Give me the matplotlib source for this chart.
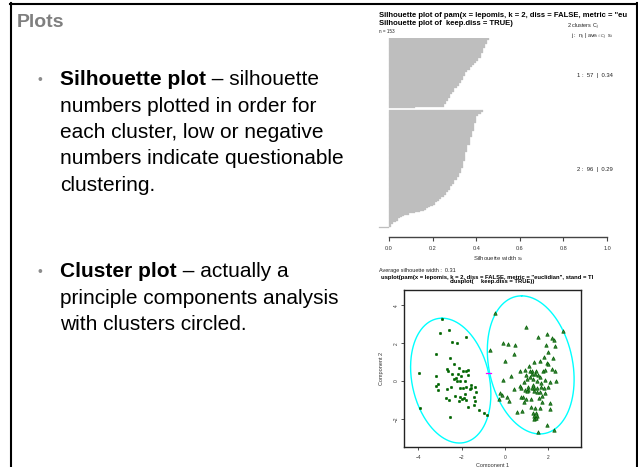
import numpy as np
import matplotlib.pyplot as plt
from matplotlib.lines import Line2D

plt.rcParams['font.family'] = ['Liberation Sans', 'DejaVu Sans']
plt.rcParams['mathtext.fontset'] = 'custom'
plt.rcParams['mathtext.rm'] = 'Liberation Sans'
plt.rcParams['mathtext.it'] = 'Liberation Sans:italic'

# silhouette widths per cluster (sorted, as plotted)
sil_c1 = [0.46, 0.46, 0.45, 0.45, 0.45, 0.44, 0.44, 0.44, 0.43, 0.43,
          0.43, 0.43, 0.42, 0.42, 0.42, 0.42, 0.41, 0.41, 0.41, 0.40,
          0.39, 0.39, 0.38, 0.38, 0.37, 0.37, 0.36, 0.36, 0.35, 0.35,
          0.35, 0.34, 0.34, 0.34, 0.33, 0.33, 0.33, 0.32, 0.32, 0.31,
          0.31, 0.30, 0.30, 0.30, 0.29, 0.29, 0.28, 0.28, 0.28, 0.27,
          0.27, 0.26, 0.26, 0.26, 0.25, 0.25, 0.12]
sil_c2 = [0.43, 0.42, 0.42, 0.41, 0.41, 0.40, 0.40, 0.40, 0.40, 0.40,
          0.39, 0.39, 0.39, 0.39, 0.39, 0.39, 0.39, 0.38, 0.38, 0.38,
          0.38, 0.38, 0.37, 0.37, 0.37, 0.37, 0.37, 0.37, 0.36, 0.36,
          0.36, 0.36, 0.36, 0.36, 0.35, 0.35, 0.35, 0.35, 0.35, 0.35,
          0.35, 0.34, 0.34, 0.34, 0.34, 0.34, 0.34, 0.33, 0.33, 0.33,
          0.33, 0.32, 0.32, 0.32, 0.31, 0.31, 0.31, 0.30, 0.30, 0.30,
          0.29, 0.29, 0.28, 0.28, 0.28, 0.27, 0.27, 0.26, 0.26, 0.25,
          0.25, 0.24, 0.23, 0.23, 0.22, 0.21, 0.21, 0.20, 0.19, 0.18,
          0.17, 0.16, 0.14, 0.12, 0.09, 0.07, 0.06, 0.05, 0.04, 0.04,
          0.03, 0.02, 0.02, 0.01, 0.01, -0.045]
cluster_ids = [1, 2]
cluster_n = [57, 96]
cluster_avg = [0.34, 0.29]
avg_width = 0.31
sil_ticks = [0.0, 0.2, 0.4, 0.6, 0.8, 1.0]

# principal component scores
pc1_c1 = [-2.92, -3.00, -2.58, -2.46, -2.20, -1.80, -3.20, -3.96, -2.53, -2.33,
          -2.69, -2.61, -2.10, -1.92, -1.81, -1.71, -3.16, -2.44, -2.15, -1.72,
          -2.33, -3.09, -3.16, -3.07, -2.69, -2.50, -2.07, -1.84, -1.57, -2.06,
          -1.94, -1.78, -1.57, -1.38, -1.34, -2.29, -2.57, -2.09, -2.00, -1.87,
          -1.80, -2.12, -1.43, -1.38, -1.69, -1.44, -1.18, -0.97, -0.84, -2.53,
          -3.92, -2.24, -2.01, -1.61, -1.86, -2.20, -2.72]
pc2_c1 = [3.28, 2.52, 2.68, 2.08, 2.03, 2.31, 1.45, 0.42, 1.23, 0.90,
          0.62, 0.51, 0.71, 0.55, 0.55, 0.56, 0.26, 0.37, 0.37, 0.30,
          0.12, -0.14, -0.28, -0.48, -0.44, -0.30, 0.02, -0.02, -0.21, -0.35,
          -0.37, -0.34, -0.35, -0.34, -0.56, -0.78, -1.00, -0.86, -0.97, -0.90,
          -1.00, -1.08, -0.83, -1.04, -1.39, -1.27, -1.53, -1.71, -1.78, -1.89,
          -1.43, 0.18, 0.25, -0.42, -0.69, -0.02, -0.88]
pc1_c2 = [-0.48, 0.95, 2.69, 1.94, 1.54, 2.17, 2.27, -0.11, 0.14, 0.46,
          1.89, 2.30, -0.69, 0.41, 2.00, 2.20, 1.80, 0.02, 1.32, 1.63,
          1.92, 1.11, 2.00, 2.18, 2.32, 0.68, 0.92, 1.15, 1.24, 1.43,
          1.51, 1.77, 1.86, 0.26, 1.26, 1.37, 1.61, 1.00, -0.09, 0.86,
          1.84, 2.37, 2.06, 0.69, 1.29, 0.74, 0.41, 0.91, 1.04, 1.23,
          1.34, 1.46, 1.67, 1.78, 1.08, 1.34, 1.46, 1.63, 1.86, -0.23,
          -0.15, 0.11, 0.20, -0.26, 0.72, 0.81, 0.88, 1.18, 1.58, 1.72,
          1.18, 0.54, 0.78, 1.38, 1.61, 2.06, 2.07, 1.29, 1.43, 1.34,
          1.46, 1.38, 1.32, 1.44, 1.95, 1.54, 2.27, 1.03, 0.95, 1.69,
          1.31, 1.47, 1.14, 0.98, 1.66, 1.98]
pc2_c2 = [3.58, 2.88, 2.65, 2.50, 2.33, 2.26, 2.17, 2.03, 1.94, 1.92,
          1.92, 1.85, 1.64, 1.43, 1.53, 1.23, 1.29, 1.04, 1.02, 1.08,
          0.97, 0.79, 0.90, 0.65, 0.55, 0.55, 0.58, 0.51, 0.51, 0.53,
          0.30, 0.51, 0.58, 0.25, 0.35, 0.35, 0.23, 0.12, 0.05, -0.04,
          0.05, 0.02, -0.04, -0.25, -0.19, -0.39, -0.44, -0.48, -0.34, -0.35,
          -0.39, -0.35, -0.30, -0.35, -0.48, -0.53, -0.58, -0.60, -0.65, -0.62,
          -0.74, -0.86, -1.06, -0.95, -0.83, -0.86, -1.09, -0.95, -0.92, -1.09,
          -1.36, -1.66, -1.57, -1.45, -1.41, -1.15, -1.48, -1.68, -1.71, -1.85,
          -1.83, -1.98, -2.01, -1.98, -2.33, -2.72, -2.59, -0.53, -0.97, -0.79,
          0.09, -0.02, 0.23, 0.34, -0.09, -0.34]

# spanning ellipses: centre and shape terms
ell_cx = [-2.50, 1.185]
ell_cy = [0.02, 0.85]
ell_xc = [-0.40, -0.42]   # x term on cos
ell_xs = [1.806, 1.955]   # x term on sin
ell_yc = [3.30, 3.65]     # y term on cos
sep_x = [-0.87, -0.66]
sep_y = [0.44, 0.44]

W, H = 638, 467


def fx(x):
    return x / W


def fy(y):
    return 1 - y / H


fig = plt.figure(figsize=(W / 100, H / 100), dpi=100)
fig.patch.set_facecolor('white')

# slide frame
for xs, ys in [([10.5, 10.5], [3, 467]), ([10, 637], [3.5, 3.5]), ([636.5, 636.5], [3, 467])]:
    fig.add_artist(Line2D([fx(v) for v in xs], [fy(v) for v in ys], color='black', lw=1.5))

fig.text(fx(17), fy(27), 'Plots', fontsize=14, weight='bold', color='#7f7f7f')

renderer = fig.canvas.get_renderer()


def bullet(y, bold, rest, more):
    fig.text(fx(37), fy(y - 1), '\u2022', fontsize=10, color='#8c8c8c')
    t = fig.text(fx(60), fy(y), bold, fontsize=15, weight='bold')
    bb = t.get_window_extent(renderer)
    fig.text(bb.x1 / W, fy(y), rest, fontsize=15)
    for i, line in enumerate(more):
        fig.text(fx(60), fy(y + 26.5 * (i + 1)), line, fontsize=15)


bullet(85, 'Silhouette plot', ' \u2013 silhouette',
       ['numbers plotted in order for', 'each cluster, low or negative',
        'numbers indicate questionable', 'clustering.'])
bullet(277, 'Cluster plot', ' \u2013 actually a',
       ['principle components analysis', 'with clusters circled.'])

# ---- silhouette plot ----
ax1 = fig.add_axes([fx(370), fy(237), (620 - 370) / W, (237 - 38) / H])
gap = 2
pos1 = np.arange(len(sil_c1))
pos2 = np.arange(len(sil_c2)) + len(sil_c1) + gap
ax1.barh(pos1, sil_c1, height=1.0, align='edge', color='#bebebe', edgecolor='#bebebe', lw=0.2)
ax1.barh(pos2, sil_c2, height=1.0, align='edge', color='#bebebe', edgecolor='#bebebe', lw=0.2)
ax1.set_xlim(-19 / 218, 1 + 13 / 218)
ax1.set_ylim((237 - 38) / 1.226, 0)
for s in ['top', 'right', 'left']:
    ax1.spines[s].set_visible(False)
ax1.spines['bottom'].set_bounds(0, 1)
ax1.spines['bottom'].set_color('#444444')
ax1.spines['bottom'].set_linewidth(1.0)
ax1.set_yticks([])
ax1.set_xticks(sil_ticks)
ax1.set_xticklabels([f'{v:.1f}' for v in sil_ticks])
ax1.tick_params(axis='x', labelsize=4, length=3, width=0.8, pad=3.5, color='#444444', labelcolor='#333333')
ax1.set_xlabel('Silhouette width s$_i$', fontsize=4.3, color='#333333')
ax1.xaxis.set_label_coords(0.512, -0.085)
ax1.patch.set_alpha(0)

fig.text(fx(379), fy(17), 'Silhouette plot of pam(x = lepomis, k = 2, diss = FALSE, metric = "eu',
         fontsize=5.5, weight='bold')
fig.text(fx(379), fy(25), 'Silhouette plot of', fontsize=5.5, weight='bold')
fig.text(fx(446), fy(25), 'keep.diss = TRUE)', fontsize=5.5, weight='bold')
fig.text(fx(379), fy(33), f'n = {len(sil_c1) + len(sil_c2)}', fontsize=3.3, color='#222222')
fig.text(fx(567), fy(28), f'{len(cluster_n)} clusters C$_j$', fontsize=4.0, color='#222222')
fig.text(fx(571), fy(38.5), r'j :  n$_j$ | ave$_{i\in Cj}$  s$_i$', fontsize=4.0, color='#222222')
for k, n, a, yb in zip(cluster_ids, cluster_n, cluster_avg, [76.5, 171.5]):
    fig.text(fx(577), fy(yb), f'{k} :  {n}  |  {a:.2f}', fontsize=4.2, color='#222222')
fig.text(fx(379), fy(272), f'Average silhouette width :  {avg_width:.2f}', fontsize=4, color='#222222')

# ---- cluster plot ----
fig.text(fx(381), fy(278.5),
         'usplot(pam(x = lepomis, k = 2, diss = FALSE, metric = "euclidian", stand = TI',
         fontsize=4.2, weight='bold')
fig.text(fx(450), fy(283), 'clusplot(', fontsize=4.2, weight='bold')
fig.text(fx(481), fy(283), 'keep.diss = TRUE))', fontsize=4.2, weight='bold')

ax2 = fig.add_axes([fx(404), fy(447), 177 / W, 157 / H])
t = np.linspace(0, 2 * np.pi, 300)
for cx, cy, a, b, c in zip(ell_cx, ell_cy, ell_xc, ell_xs, ell_yc):
    ax2.plot(cx + a * np.cos(t) + b * np.sin(t), cy + c * np.cos(t), color='#00ffff', lw=1.0)
ax2.plot(sep_x, sep_y, color='#ff00ff', lw=0.9)
ax2.scatter(pc1_c1, pc2_c1, s=3.5, marker='o', color='#006400', lw=0.3, zorder=3)
ax2.scatter(pc1_c2, pc2_c2, s=6, marker='^', facecolor='#3d7d3d', edgecolor='#006400', lw=0.5, zorder=3)
ax2.set_xlim(-4.654, 3.502)
ax2.set_ylim(-3.49, 4.81)
ax2.set_xticks([-4, -2, 0, 2])
ax2.set_yticks([-2, 0, 2, 4])
for s in ax2.spines.values():
    s.set_linewidth(1.0)
    s.set_color('#222222')
ax2.tick_params(labelsize=3.5, length=2.5, width=0.6, color='#333333', labelcolor='#333333')
ax2.tick_params(axis='x', pad=3)
ax2.tick_params(axis='y', pad=1.5)
for lbl in ax2.get_yticklabels():
    lbl.set_rotation(90)
    lbl.set_va('center')
ax2.set_xlabel('Component 1', fontsize=4, color='#333333')
ax2.xaxis.set_label_coords(0.5, -0.10)
ax2.set_ylabel('Component 2', fontsize=4, color='#333333')
ax2.yaxis.set_label_coords(-0.115, 0.5)

fig.savefig('out.png', dpi=100)
